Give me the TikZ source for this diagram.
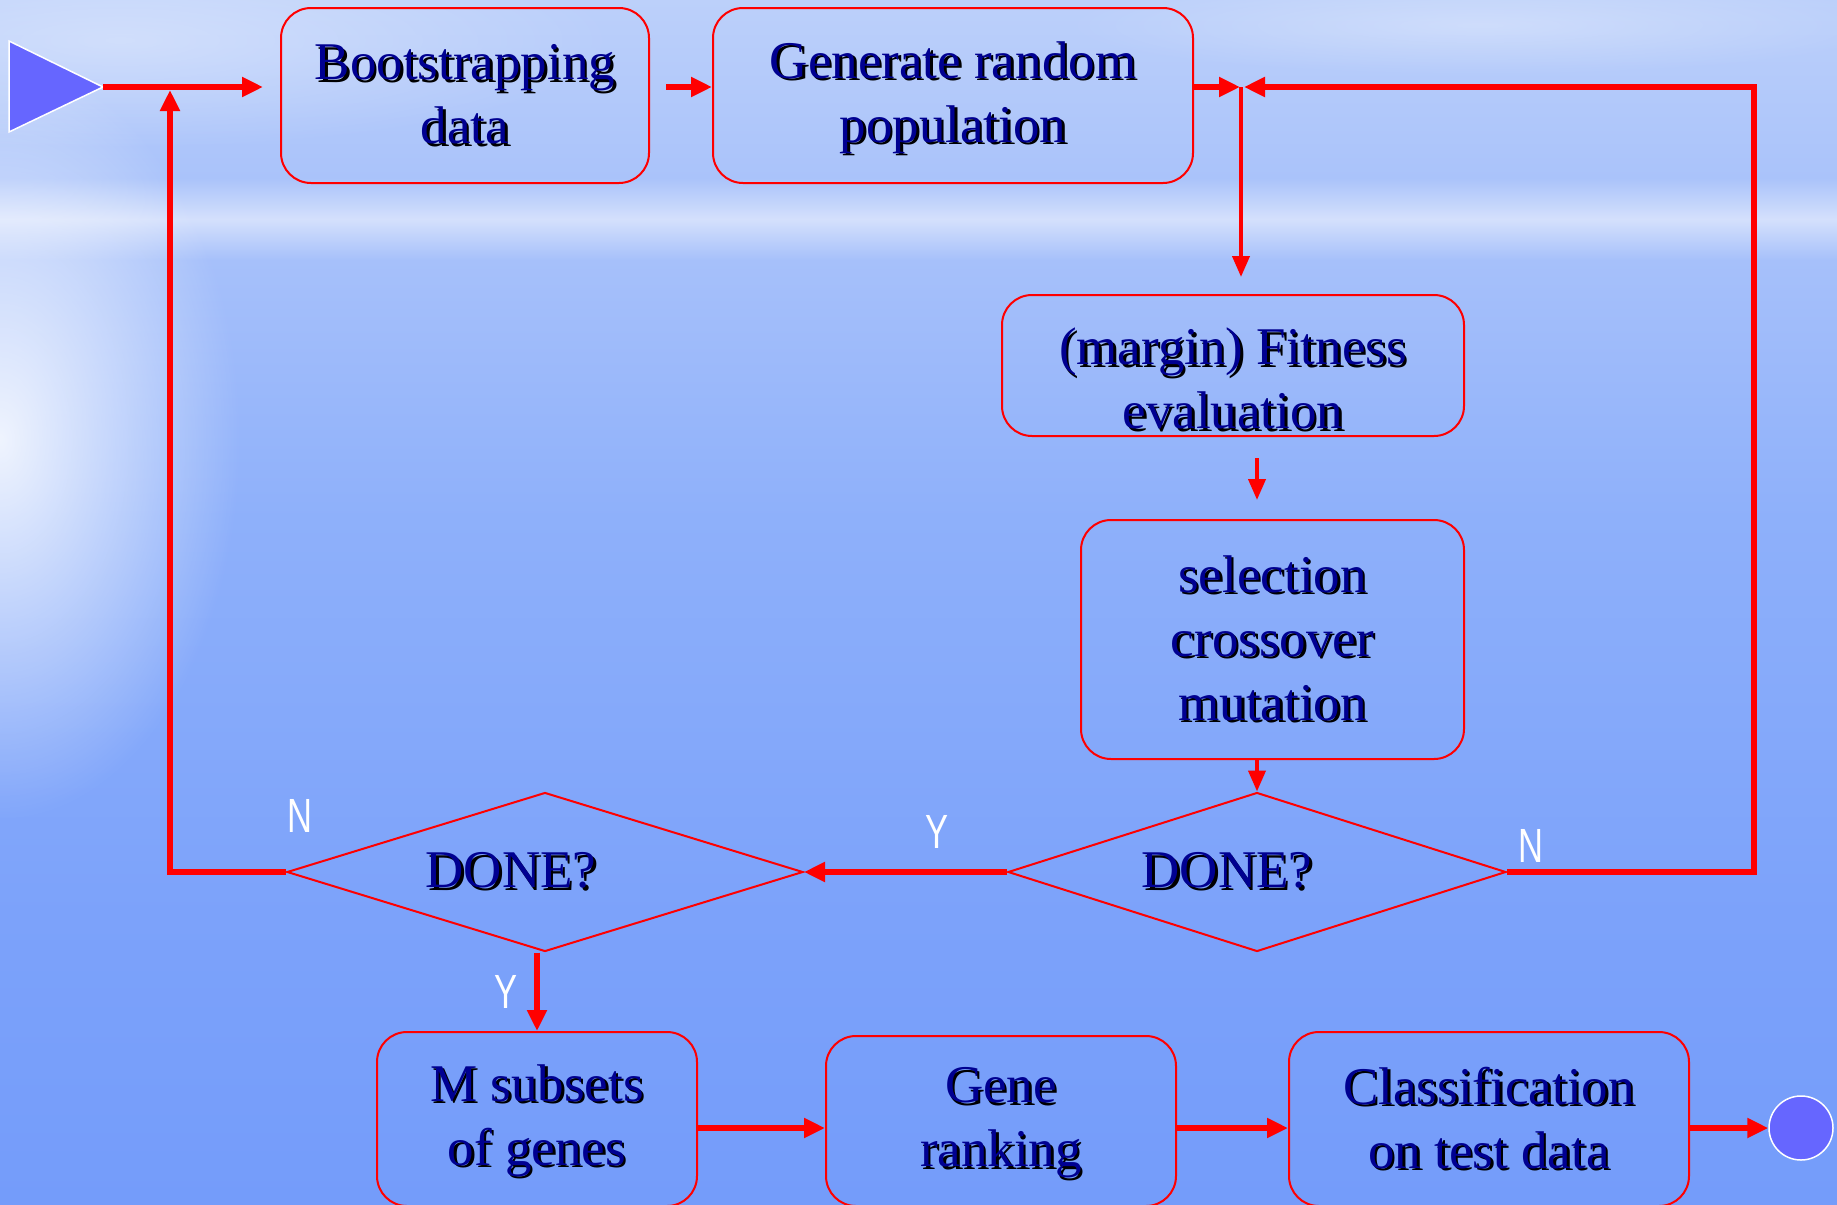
\documentclass[tikz,border=0pt]{standalone}
\usepackage{fontspec}
\setmainfont{Liberation Serif}
\newfontfamily\labfont{Liberation Sans}
\usetikzlibrary{arrows.meta,shapes.geometric,fadings}
\definecolor{skytop}{RGB}{188,208,250}
\definecolor{skyupper}{RGB}{170,195,250}
\definecolor{skyband}{RGB}{212,224,252}
\definecolor{skyb2}{RGB}{166,192,250}
\definecolor{skymid}{RGB}{142,176,250}
\definecolor{skylow}{RGB}{124,162,250}
\definecolor{skybot}{RGB}{116,156,250}
\definecolor{navytext}{RGB}{0,0,145}
\definecolor{startc}{RGB}{102,102,255}
\definecolor{linered}{RGB}{255,0,0}
\pgfdeclareverticalshading{sky}{100bp}{color(0bp)=(skybot); color(25bp)=(skybot); color(37bp)=(skylow); color(53.5bp)=(skymid); color(64.2bp)=(skyb2); color(65.9bp)=(skyband); color(67.6bp)=(skyupper); color(75bp)=(skytop); color(100bp)=(skytop)}
\tikzfading[name=glowfade, inner color=transparent!0, outer color=transparent!100]
\newcommand\shd[1]{\makebox[0pt][l]{\kern2.5pt\raisebox{-2.5pt}{\color{black}#1}}#1}
\tikzset{
  box/.style={draw=linered, line width=2pt, rounded corners=30pt, inner sep=0pt,
    text=navytext, align=center, font=\fontsize{53}{64}\selectfont},
  btext/.style={text=navytext, align=center, font=\fontsize{53}{64}\selectfont, inner sep=0pt},
  decision/.style={diamond, draw=linered, line width=2pt, inner sep=0pt},
  conn/.style={draw=linered, line width=6pt, -{Triangle[length=21pt,width=19pt]}},
  thinconn/.style={draw=linered, line width=4pt, -{Triangle[length=21pt,width=17pt]}},
  yn/.style={text=white, font=\labfont\fontsize{48}{48}\selectfont, xscale=0.72, inner sep=0pt},
  dtext/.style={text=navytext, font=\fontsize{53}{64}\selectfont},
}
\begin{document}
\begin{tikzpicture}[x=1pt,y=-1pt]
\useasboundingbox (0,0) rectangle (1837,1205);
\clip (0,0) rectangle (1837,1205);
\shade[shading=sky] (0,0) rectangle (1837,1205);
\fill[white, path fading=glowfade, fill opacity=0.85] (0,440) ellipse [x radius=240, y radius=380];
\fill[white, path fading=glowfade, fill opacity=0.35] (120,40) ellipse [x radius=500, y radius=110];
\fill[white, path fading=glowfade, fill opacity=0.3] (1480,25) ellipse [x radius=420, y radius=50];

% start marker
\fill[startc, draw=white, line width=1.5pt] (9,41) -- (103,87) -- (9,132) -- cycle;
\coordinate (start) at (103,87);

% boxes
\node[box, minimum width=368pt, minimum height=175pt] (boot) at (465,95.5) {\shd{Bootstrapping}\\\shd{data}};
\node[box, minimum width=480pt, minimum height=175pt] (gen) at (953,95.5) {};
\node[btext] (gent) at (953,99) {\shd{Generate random}\\\shd{population}};
\node[box, minimum width=462pt, minimum height=141pt] (fit) at (1233,365.5) {};
\node[btext] (fitt) at (1233,380) {\shd{(margin) Fitness}\\\shd{evaluation}};
\node[box, minimum width=383pt, minimum height=239pt] (sel) at (1272.5,639.5) {\shd{selection}\\\shd{crossover}\\\shd{mutation}};
\node[decision, minimum width=498pt, minimum height=159pt] (d2) at (1257,872) {};
\node[dtext] (d2t) at (1227,872) {\shd{DONE?}};
\node[decision, minimum width=516pt, minimum height=159pt] (d1) at (545,872) {};
\node[dtext] (d1t) at (511,872) {\shd{DONE?}};
\node[box, minimum width=320pt, minimum height=174pt] (msub) at (537,1119) {};
\node[btext] (msubt) at (537,1122) {\shd{M subsets}\\\shd{of genes}};
\node[box, minimum width=350pt, minimum height=170pt] (gene) at (1001,1121) {};
\node[btext] (genet) at (1001,1124) {\shd{Gene}\\\shd{ranking}};
\node[box, minimum width=400pt, minimum height=174pt] (cls) at (1489,1119) {\shd{Classification}\\\shd{on test data}};
\node[circle, fill=startc, draw=white, line width=1.5pt, minimum size=64pt, inner sep=0pt] (endc) at (1801,1128) {};

% junction coordinates
\coordinate (J) at (1241,87);
\coordinate (R) at (1754,87);
\coordinate (LT) at (170,87);

% connectors
\draw[conn] (start) -- ([xshift=-17pt]start -| boot.west);
\draw[conn] ([xshift=16pt]start -| boot.east) -- (start -| gen.west);
\draw[conn] (start -| gen.east) -- ([xshift=-1pt]J);
\draw[conn] (d2.east) -| (R) -- ([xshift=3pt]J);
\draw[thinconn] (J) -- ([yshift=17pt]J |- fit.north);
\draw[thinconn] ([yshift=-21pt]d2.north |- fit.south) -- ([yshift=19pt]d2.north |- sel.north);
\draw[thinconn] (d2.north |- sel.south) -- (d2.north);
\draw[conn] (d2.west) -- (d1.east);
\draw[conn] (d1.west) -| ([yshift=-3pt]LT);
\draw[conn] (msub.north |- d1.south) -- (msub.north);
\draw[conn] (msub.east |- endc) -- (gene.west |- endc);
\draw[conn] (gene.east |- endc) -- (cls.west |- endc);
\draw[conn] (cls.east |- endc) -- (endc.west);

% labels
\node[yn] (n1) at (300,816) {N};
\node[yn] (y1) at (937,832) {Y};
\node[yn] (n2) at (1531,846) {N};
\node[yn] (y2) at (506,992) {Y};
\end{tikzpicture}
\end{document}
